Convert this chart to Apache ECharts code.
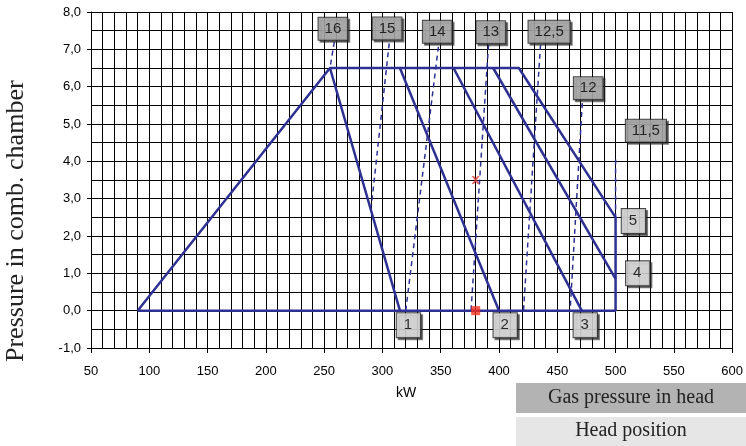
<!DOCTYPE html>
<html>
<head>
<meta charset="utf-8">
<script src="https://cdn.jsdelivr.net/npm/echarts@6/dist/echarts.min.js"></script>
<style>html,body{margin:0;padding:0;background:#fff;}#c{width:746px;height:446px;}</style>
</head>
<body>
<div id="c"></div>
<script>
// Envelope of the working field
const envelopeX = [90, 255, 417, 500, 500, 90];
const envelopeY = [0, 6.5, 6.5, 2.5, 0, 0];
// Head position lines (solid)
const headTopX = [255, 315, 361, 395];
const headTopY = [6.5, 6.5, 6.5, 6.5];
const headBottomX = [315, 400, 471, 500];
const headBottomY = [0, 0, 0, 0.85];
// Gas pressure lines (dashed)
const gasTopX = [258.7, 305.8, 348, 391, 435.6, 471.4, 500];
const gasTopY = [7.2, 7.16, 7.07, 7.12, 7.12, 5.56, 4.05];
const gasBottomX = [255, 290.5, 320, 376, 421, 461, 500];
const gasBottomY = [6.5, 2.8, 0, 0, 0, 0, 2.5];
// Labels
const gasLabelText = ['16', '15', '14', '13', '12,5', '12', '11,5'];
const gasLabelX = [257.5, 304, 347, 393, 443, 476.5, 526];
const gasLabelY = [7.55, 7.56, 7.47, 7.46, 7.47, 5.96, 4.82];
const headLabelText = ['1', '2', '3', '4', '5'];
const headLabelX = [322.3, 405.3, 474, 519, 515.3];
const headLabelY = [-0.39, -0.39, -0.39, 1.0, 2.4];
// Operating point markers
const pointX = [380];
const pointY = [0];
const crossX = [380];
const crossY = [3.5];
// Axis ticks
const xMin = 50, xMax = 600, xStep = 50;
const yMin = -1, yMax = 8, yStep = 1;

const BLUE = '#2e3192';
const series = [];
series.push({
  type: 'line', data: envelopeX.map((x, i) => [x, envelopeY[i]]),
  symbol: 'none', lineStyle: { color: BLUE, width: 2.5 }, z: 3
});
headTopX.forEach((x, i) => {
  series.push({
    type: 'line', data: [[x, headTopY[i]], [headBottomX[i], headBottomY[i]]],
    symbol: 'none', lineStyle: { color: BLUE, width: 2.5 }, z: 3
  });
});
gasTopX.forEach((x, i) => {
  series.push({
    type: 'line', data: [[x, gasTopY[i]], [gasBottomX[i], gasBottomY[i]]],
    symbol: 'none', lineStyle: { color: BLUE, width: 1.5, type: [5, 4] }, z: 3
  });
});
series.push({
  type: 'scatter', data: pointX.map((x, i) => [x, pointY[i]]),
  symbol: 'rect', symbolSize: 9, itemStyle: { color: '#f5301e' }, z: 5
});
series.push({
  type: 'scatter', data: crossX.map((x, i) => [x, crossY[i]]),
  symbol: 'path://M0,0L2.5,0L5,2.5L7.5,0L10,0L6.3,5L10,10L7.5,10L5,7.5L2.5,10L0,10L3.7,5Z',
  symbolSize: 8, itemStyle: { color: '#e03a3a' }, z: 5
});
const boxLabel = (bg) => ({
  show: true, position: 'inside', formatter: (p) => p.data[2],
  fontFamily: 'Liberation Sans, Arial, sans-serif', fontSize: 15, color: '#000',
  backgroundColor: bg, borderColor: '#1a1a1a', borderWidth: 1,
  padding: [4, 6, 3, 6],
  textShadowColor: 'transparent', textShadowBlur: 0, textBorderWidth: 0,
  shadowColor: 'rgba(40,40,40,0.75)', shadowOffsetX: 2, shadowOffsetY: 2, shadowBlur: 0
});
series.push({
  type: 'scatter', data: gasLabelX.map((x, i) => [x, gasLabelY[i], gasLabelText[i]]),
  symbolSize: 1, itemStyle: { color: 'rgba(0,0,0,0)' }, z: 6,
  label: boxLabel('#b3b3b3')
});
series.push({
  type: 'scatter', data: headLabelX.map((x, i) => [x, headLabelY[i], headLabelText[i]]),
  symbolSize: 1, itemStyle: { color: 'rgba(0,0,0,0)' }, z: 6,
  label: Object.assign(boxLabel('#e6e6e6'), { padding: [5, 8, 4, 7] })
});

const chart = echarts.init(document.getElementById('c'), null, { renderer: 'canvas' });
chart.setOption({
  animation: false,
  backgroundColor: '#fff',
  grid: { left: 91, right: 13, top: 12, bottom: 98 },
  xAxis: {
    type: 'value', min: xMin, max: xMax, interval: xStep,
    axisLine: { show: true, onZero: false, lineStyle: { color: '#000', width: 1 } },
    axisTick: { show: true, length: 5, lineStyle: { color: '#000' } },
    axisLabel: { margin: 17, fontFamily: 'Liberation Sans, Arial, sans-serif', fontSize: 13, color: '#000' },
    splitLine: { show: true, lineStyle: { color: '#000', width: 1 } },
    minorTick: { show: false, splitNumber: 5 },
    minorSplitLine: { show: true, lineStyle: { color: '#000', width: 1 } }
  },
  yAxis: {
    type: 'value', min: yMin, max: yMax, interval: yStep,
    axisLine: { show: true, onZero: false, lineStyle: { color: '#000', width: 1 } },
    axisTick: { show: true, length: 4, lineStyle: { color: '#000' } },
    axisLabel: {
      margin: 10, fontFamily: 'Liberation Sans, Arial, sans-serif', fontSize: 13, color: '#000',
      formatter: (v) => v.toFixed(1).replace('.', ',')
    },
    splitLine: { show: true, lineStyle: { color: '#000', width: 1 } },
    minorTick: { show: false, splitNumber: 2 },
    minorSplitLine: { show: true, lineStyle: { color: '#000', width: 1 } }
  },
  graphic: [
    { type: 'text', rotation: Math.PI / 2, x: 3, y: 362,
      style: { text: 'Pressure in comb. chamber', font: '26px "Liberation Serif", serif', fill: '#222' } },
    { type: 'text', x: 406, y: 393,
      style: { text: 'kW', font: '14px "Liberation Sans", Arial, sans-serif', fill: '#000', textAlign: 'center', textVerticalAlign: 'middle' } },
    { type: 'rect', shape: { x: 516, y: 383, width: 230, height: 30 }, style: { fill: '#b3b3b3' } },
    { type: 'text', x: 631, y: 398,
      style: { text: 'Gas pressure in head', font: '20px "Liberation Serif", serif', fill: '#222', textAlign: 'center', textVerticalAlign: 'middle' } },
    { type: 'rect', shape: { x: 516, y: 417, width: 230, height: 29 }, style: { fill: '#e6e6e6' } },
    { type: 'text', x: 631, y: 431,
      style: { text: 'Head position', font: '20px "Liberation Serif", serif', fill: '#222', textAlign: 'center', textVerticalAlign: 'middle' } }
  ],
  series: series
});
</script>
</body>
</html>
